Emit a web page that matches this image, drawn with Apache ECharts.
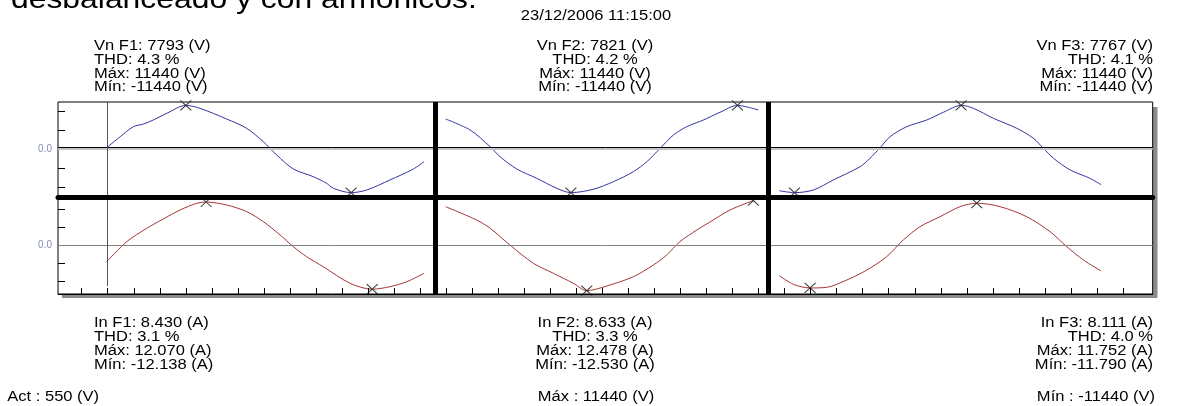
<!DOCTYPE html>
<html>
<head>
<meta charset="utf-8">
<script src="https://cdn.jsdelivr.net/npm/echarts@6/dist/echarts.min.js"></script>
<style>
html,body{margin:0;padding:0;background:#fff;}
#c{width:1196px;height:406px;}
</style>
</head>
<body>
<div id="c"></div>
<script>
// ---------------- data ----------------
const headline = 'desbalanceado y con armónicos.';
const timestamp = '23/12/2006 11:15:00';
const phaseNames = ['F1', 'F2', 'F3'];
const voltRms = ['7793', '7821', '7767'];
const voltThd = ['4.3', '4.2', '4.1'];
const voltMax = ['11440', '11440', '11440'];
const voltMin = ['-11440', '-11440', '-11440'];
const currRms = ['8.430', '8.633', '8.111'];
const currThd = ['3.1', '3.3', '4.0'];
const currMax = ['12.070', '12.478', '11.752'];
const currMin = ['-12.138', '-12.530', '-11.790'];
const footerValues = ['Act : 550 (V)', 'Máx : 11440 (V)', 'Mín : -11440 (V)'];

// x in time divisions (one division = one tick), y in kV (voltage) and A (current)
const xTickValues = [0,1,2,3,4,5,6,7,8,9,10,11,12,13,14,15,16,17,18,19,20,21,22,23,24,25,26,27,28,29,30,31,32,33,34,35,36,37,38,39,40];
const panelSeparators = [13.57, 26.37];
const cursorPosition = [0.97];
const yTickVolt = [-10, -5, 5, 10];
const yTickCurr = [-10, -5, 5, 10];

const voltF1_t  = [0.96,1.48,1.98,2.37,2.75,3.27,4.0,4.54,5.57,6.34,6.98,7.23,7.49,8.13,8.9,9.41,9.67,10.35,10.95,11.84,12.74,13.15];
const voltF1_kV = [0.34,3.22,5.84,6.55,7.6,9.36,11.44,10.67,7.86,5.42,1.91,0.18,-1.57,-5.24,-7.26,-8.99,-10.3,-11.44,-10.74,-8.12,-5.24,-3.33];
const voltF2_t  = [13.98,14.92,15.69,16.07,16.71,17.48,18.25,18.79,19.65,20.42,21.19,21.71,22.22,22.73,23.24,23.88,24.52,25.19,25.61,25.99];
const voltF2_kV = [7.86,4.98,0.6,-2.02,-5.24,-7.68,-10.3,-11.44,-10.56,-8.57,-5.95,-3.33,0.18,3.67,5.84,7.6,9.62,11.44,10.93,10.22];
const voltF3_t  = [26.8,27.38,28.11,28.87,29.9,30.28,30.67,31.05,31.69,32.46,33.1,33.78,34.25,35.02,35.92,36.56,36.94,37.33,37.97,38.73,39.16];
const voltF3_kV = [-10.93,-11.44,-10.74,-8.12,-4.64,-2.44,0.34,3.22,5.84,7.6,9.62,11.44,10.67,8.05,5.42,2.8,0.18,-2.44,-5.5,-7.68,-9.36];

const currF1_t = [0.96,1.73,2.5,3.13,3.78,4.42,4.78,5.57,6.34,6.98,7.62,8.13,8.64,9.28,10.31,11.16,11.84,12.49,13.15];
const currF1_A = [-4.5,1.06,4.78,7.36,9.86,11.72,12.07,11.25,9.39,6.61,2.92,-0.33,-3.11,-5.89,-10.5,-12.138,-11.44,-10.06,-7.72];
const currF2_t = [13.98,15.17,15.69,16.45,17.35,18.12,18.89,19.4,20.17,21.19,21.96,22.47,22.98,23.63,24.26,24.9,25.8];
const currF2_A = [10.78,7.08,4.78,0.14,-4.94,-7.72,-10.5,-12.53,-11.25,-8.67,-5.42,-2.64,1.06,4.31,7.08,9.86,12.478];
const currF3_t = [26.8,27.34,27.98,28.62,29.39,30.16,30.92,31.56,32.2,32.97,33.74,34.38,35.28,36.3,37.2,37.84,38.48,39.16];
const currF3_A = [-8.39,-10.78,-11.79,-11.61,-9.58,-6.81,-3.11,1.53,5.22,8.0,10.78,11.752,10.78,8.0,3.83,-0.33,-4.03,-7.08];

// ---------------- chart ----------------
const FONT = '"Liberation Sans", Arial, sans-serif';
const zip = (t, v) => t.map((x, i) => [x, v[i]]);
const xRange = [-0.91, 41.14];
const voltRange = [-12.71, 12.32];
const currRange = [-13.47, 13.33];
const currCursorEnd = -11.25;

const BLUE = '#3434a6';
const RED = '#a83434';
const TXT = 14;
const SX = 1.18;
const LH = 13.8;

const crossMark = {
  symbol: 'path://M0,0L10,10M10,0L0,10',
  symbolSize: [11, 10],
  silent: true,
  animation: false,
  itemStyle: { color: 'none', borderColor: '#3c3c3c', borderWidth: 1 },
  label: { show: false },
  data: [{ type: 'max' }, { type: 'min' }]
};

function wave(idx, data, color, markLine) {
  const s = {
    type: 'line', xAxisIndex: idx, yAxisIndex: idx, data: data,
    showSymbol: false, symbol: 'none', smooth: 0.3, silent: true, animation: false,
    lineStyle: { color: color, width: 1 }, itemStyle: { color: color }, z: 3,
    markPoint: crossMark
  };
  if (markLine) s.markLine = markLine;
  return s;
}

const sepLines = panelSeparators.map(v => ({ xAxis: v, lineStyle: { color: '#000', width: 5, type: 'solid' } }));

const topMarkLine = {
  symbol: ['none', 'none'], silent: true, animation: false, label: { show: false },
  data: [
    { yAxis: 0, lineStyle: { color: '#c4c4c4', width: 2, type: 'solid' } },
    { yAxis: 0.34, lineStyle: { color: '#000', width: 1, type: 'solid' } },
    { xAxis: cursorPosition[0], lineStyle: { color: '#555', width: 1, type: 'solid' } }
  ].concat(sepLines)
};
const botMarkLine = {
  symbol: ['none', 'none'], silent: true, animation: false, label: { show: false },
  data: [
    { yAxis: 0, lineStyle: { color: '#808080', width: 1, type: 'solid' } },
    [{ coord: [cursorPosition[0], currRange[1]], lineStyle: { color: '#555', width: 1, type: 'solid' } },
     { coord: [cursorPosition[0], currCursorEnd] }]
  ].concat(sepLines)
};

function textEl(str, x, y, align, vAlign, size, scale) {
  return {
    type: 'text', x: x, y: y, scaleX: scale, silent: true, z: 10,
    style: {
      text: str, font: size + 'px ' + FONT, fill: '#000',
      align: align, textAlign: align, verticalAlign: vAlign, textVerticalAlign: vAlign,
      lineHeight: LH
    }
  };
}

const voltBlocks = phaseNames.map((p, i) =>
  'Vn ' + p + ': ' + voltRms[i] + ' (V)\nTHD: ' + voltThd[i] + ' %\nMáx: ' + voltMax[i] + ' (V)\nMín: ' + voltMin[i] + ' (V)');
const currBlocks = phaseNames.map((p, i) =>
  'In ' + p + ': ' + currRms[i] + ' (A)\nTHD: ' + currThd[i] + ' %\nMáx: ' + currMax[i] + ' (A)\nMín: ' + currMin[i] + ' (A)');

const blockX = [94, 595, 1153];
const blockAlign = ['left', 'center', 'right'];

const graphics = [
  { type: 'rect', z: -1, silent: true, shape: { x: 62, y: 107, width: 1095.5, height: 191 }, style: { fill: '#8c8c8c' } },
  textEl(headline, 11, 1, 'left', 'middle', 27, SX),
  textEl(timestamp, 596, 16, 'center', 'middle', TXT, SX)
];
voltBlocks.forEach((b, i) => graphics.push(textEl(b, blockX[i], 39.2, blockAlign[i], 'top', TXT, SX)));
currBlocks.forEach((b, i) => graphics.push(textEl(b, blockX[i], 316.4, blockAlign[i], 'top', TXT, SX)));
graphics.push(textEl(footerValues[0], 7.3, 397.5, 'left', 'middle', TXT, SX));
graphics.push(textEl(footerValues[1], 596, 397.5, 'center', 'middle', TXT, SX));
graphics.push(textEl(footerValues[2], 1155, 397.5, 'right', 'middle', TXT, SX));

const yLabelCfg = {
  show: true, customValues: [0], formatter: () => '0.0',
  color: '#8492b0', fontSize: 10, margin: 6, fontFamily: FONT
};

const option = {
  backgroundColor: '#fff',
  animation: false,
  grid: [
    { left: 58, right: 43.3, top: 102, height: 95.5, show: true, backgroundColor: '#fff', borderColor: '#000', borderWidth: 1 },
    { left: 58, right: 43.3, top: 197.5, height: 96.5, show: true, backgroundColor: '#fff', borderColor: '#000', borderWidth: 1 }
  ],
  xAxis: [
    { gridIndex: 0, type: 'value', min: xRange[0], max: xRange[1], z: 10, position: 'bottom',
      axisLine: { show: true, onZero: false, lineStyle: { color: '#000', width: 5 } },
      axisTick: { show: false }, axisLabel: { show: false }, splitLine: { show: false } },
    { gridIndex: 1, type: 'value', min: xRange[0], max: xRange[1], z: 10, position: 'bottom',
      axisLine: { show: true, onZero: false, lineStyle: { color: '#000', width: 1 } },
      axisTick: { show: true, inside: true, length: 6, customValues: xTickValues, lineStyle: { color: '#000' } },
      axisLabel: { show: false }, splitLine: { show: false } }
  ],
  yAxis: [
    { gridIndex: 0, type: 'value', min: voltRange[0], max: voltRange[1], position: 'left',
      axisLine: { show: false, onZero: false }, splitLine: { show: false },
      axisTick: { show: true, inside: true, length: 7, customValues: yTickVolt, lineStyle: { color: '#000' } },
      axisLabel: yLabelCfg },
    { gridIndex: 1, type: 'value', min: currRange[0], max: currRange[1], position: 'left',
      axisLine: { show: false, onZero: false }, splitLine: { show: false },
      axisTick: { show: true, inside: true, length: 7, customValues: yTickCurr, lineStyle: { color: '#000' } },
      axisLabel: yLabelCfg }
  ],
  series: [
    wave(0, zip(voltF1_t, voltF1_kV), BLUE, topMarkLine),
    wave(0, zip(voltF2_t, voltF2_kV), BLUE),
    wave(0, zip(voltF3_t, voltF3_kV), BLUE),
    wave(1, zip(currF1_t, currF1_A), RED, botMarkLine),
    wave(1, zip(currF2_t, currF2_A), RED),
    wave(1, zip(currF3_t, currF3_A), RED)
  ],
  graphic: graphics
};

const chart = echarts.init(document.getElementById('c'), null, { renderer: 'canvas' });
chart.setOption(option);
</script>
</body>
</html>
